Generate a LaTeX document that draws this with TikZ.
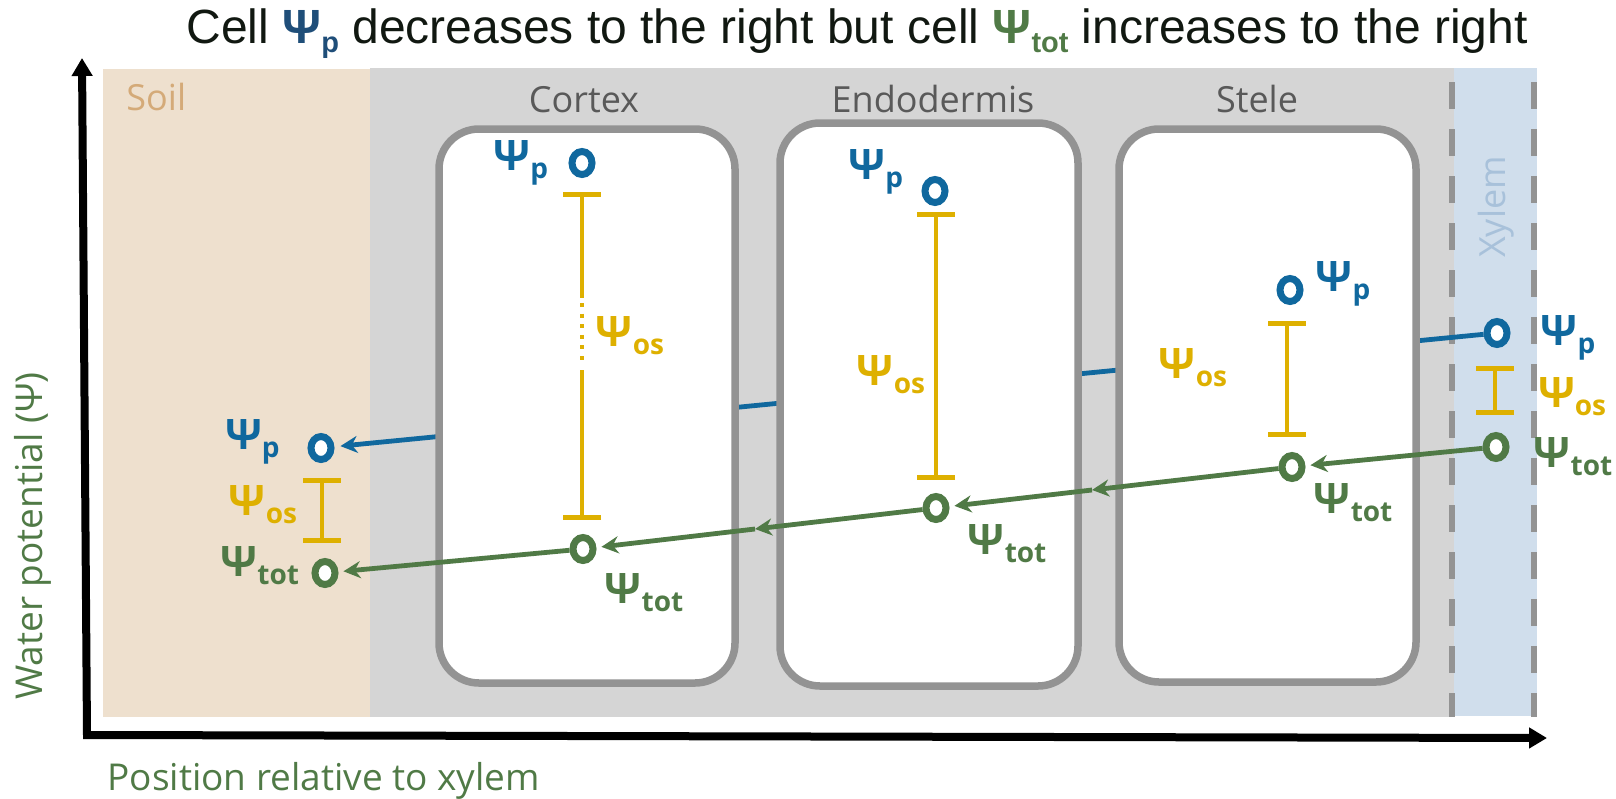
\documentclass[tikz,border=0pt]{standalone}
\usepackage{fontspec}
\setmainfont{Open Sans}
\newfontfamily\titlefont{Liberation Sans}
\usetikzlibrary{arrows.meta, positioning, shapes.geometric}

\definecolor{psiblue}{RGB}{16,104,158}
\definecolor{titleblue}{RGB}{31,78,121}
\definecolor{titleblack}{RGB}{17,24,17}
\definecolor{osyellow}{RGB}{222,176,0}
\definecolor{totgreen}{RGB}{80,122,70}
\definecolor{soilfill}{RGB}{238,224,206}
\definecolor{soiltext}{RGB}{212,170,120}
\definecolor{rootfill}{RGB}{213,213,213}
\definecolor{wallgray}{RGB}{147,147,147}
\definecolor{xylemfill}{RGB}{208,222,236}
\definecolor{xylemtext}{RGB}{168,193,218}
\definecolor{labelgray}{RGB}{89,89,89}

\newcommand{\psilab}[1]{{\fontsize{21}{21}\selectfont\bfseries Ψ}\raisebox{-4pt}{\fontsize{14}{14}\selectfont\bfseries #1}}

\begin{document}
\begin{tikzpicture}[
    x=0.5pt, y=-0.5pt,
    cell/.style={draw=wallgray, line width=3.75pt, fill=white, rounded corners=20pt},
    zonelabel/.style={font=\fontsize{18}{18}\selectfont, text=labelgray, inner sep=0pt},
    axislabel/.style={font=\fontsize{18.5}{18.5}\selectfont, text=totgreen, inner sep=0pt},
    pdot/.style={ellipse, draw=psiblue, fill=white, line width=3.5pt, minimum width=10pt, minimum height=11.5pt, inner sep=0pt},
    totdot/.style={pdot, draw=totgreen},
    plab/.style={text=psiblue, inner sep=0pt},
    oslab/.style={text=osyellow, inner sep=0pt},
    totlab/.style={text=totgreen, inner sep=0pt},
    osline/.style={draw=osyellow, line width=2pt},
    osbar/.style={osline, {Bar[width=19pt, line width=2.5pt]}-{Bar[width=19pt, line width=2.5pt]}},
    totarrow/.style={draw=totgreen, line width=2.4pt, -{Stealth[length=8.5pt,width=8.5pt]}, shorten >=2.5pt},
    parrow/.style={draw=psiblue, line width=2.4pt, -{Stealth[length=8.5pt,width=8.5pt]}, shorten >=3pt},
    axisline/.style={line width=4pt, {Triangle[length=9pt,width=10pt]}-{Triangle[length=9pt,width=10pt]}},
    dashwall/.style={draw=wallgray, line width=3pt, dash pattern=on 13.5pt off 10pt}
]
\useasboundingbox (0,0) rectangle (1616,798);

% zones
\fill[soilfill] (103,69) rectangle (370,717);
\fill[rootfill] (370,68) rectangle (1454,717);
\fill[xylemfill] (1454,68) rectangle (1537,716);
\draw[dashwall] (1452,82) -- (1452,717);
\draw[dashwall] (1534,82) -- (1534,717);
\node[zonelabel, text=soiltext, anchor=base west] (soil) at (126,110) {Soil};
\node[zonelabel, anchor=base] (cortex) at (584,112) {Cortex};
\node[zonelabel, anchor=base] (endo) at (933,112) {Endodermis};
\node[zonelabel, anchor=base] (stele) at (1257,112) {Stele};
\node[zonelabel, text=xylemtext, rotate=90] (xylem) at (1496,207) {Xylem};

% title
\node[anchor=base, font=\titlefont\fontsize{24}{24}\selectfont, text=titleblack, inner sep=0pt] (title) at (857,43)
    {Cell {\bfseries\color{titleblue}Ψ\raisebox{-4.5pt}{\fontsize{14.5}{14.5}\selectfont p}} decreases to the right but cell {\bfseries\color{totgreen}Ψ\raisebox{-4.5pt}{\fontsize{14.5}{14.5}\selectfont tot}} increases to the right};

% axes
\coordinate (origin) at (87,735);
\coordinate (ytip) at (82,58);
\coordinate (xtip) at (1547,738);
\draw[axisline] (ytip) -- (origin) -- (xtip);
\node[axislabel, rotate=90] (ylab) at (33,536) {Water potential (Ψ)};
\node[axislabel, anchor=base west] (xlab) at (107,790) {Position relative to xylem};

% pressure potential, xylem to soil (runs behind the cells)
\node[pdot] (soilp) at (321,448) {};
\node[pdot] (xp) at (1497,333) {};
\draw[parrow] (xp) -- (soilp);

% cells
\draw[cell] (439,129) rectangle (735,683);
\draw[cell] (780,123) rectangle (1078,686);
\draw[cell] (1119,129) rectangle (1416,682);

\node[pdot] (cortp) at (582,163) {};
\node[pdot] (endop) at (935,191) {};
\node[pdot] (stelep) at (1290,290) {};

% osmotic bars
\coordinate (sos1) at (322,478);
\coordinate (sos2) at (322,543);
\coordinate (cos1) at (582,192);
\coordinate (cdot1) at (582,298);
\coordinate (cdot2) at (582,370);
\coordinate (cos2) at (582,520);
\coordinate (eos1) at (936,212);
\coordinate (eos2) at (936,480);
\coordinate (stos1) at (1287,321);
\coordinate (stos2) at (1287,437);
\coordinate (xos1) at (1495,366);
\coordinate (xos2) at (1495,415);
\draw[osbar] (sos1) -- (sos2);
\draw[osline, {Bar[width=19pt, line width=2.5pt]}-] (cos1) -- (cdot1);
\draw[osline, dash pattern=on 2pt off 3.3pt, shorten <=2.5pt, shorten >=2.5pt] (cdot1) -- (cdot2);
\draw[osline, -{Bar[width=19pt, line width=2.5pt]}] (cdot2) -- (cos2);
\draw[osbar] (eos1) -- (eos2);
\draw[osbar] (stos1) -- (stos2);
\draw[osbar] (xos1) -- (xos2);

% total potential
\node[totdot] (soiltot) at (325,573) {};
\node[totdot] (corttot) at (583,549) {};
\node[totdot] (endotot) at (936,508) {};
\node[totdot] (steletot) at (1292,467) {};
\node[totdot] (xtot) at (1496,447) {};
\coordinate (g2) at (1092,490);
\coordinate (g1) at (755,529);
\draw[totarrow] (xtot) -- (steletot);
\draw[totarrow, shorten >=0pt] (steletot) -- (g2);
\draw[totarrow] (g2) -- (endotot);
\draw[totarrow, shorten >=0pt] (endotot) -- (g1);
\draw[totarrow] (g1) -- (corttot);
\draw[totarrow] (corttot) -- (soiltot);

% labels
\node[plab, left=13.75pt of soilp, yshift=3pt] (lsoilp) {\psilab{p}};
\node[plab, left=10pt of cortp] (lcortp) {\psilab{p}};
\node[plab, left=9pt of endop, yshift=9.5pt] (lendop) {\psilab{p}};
\node[plab, right=6pt of stelep, yshift=3pt] (lstelep) {\psilab{p}};
\node[plab, right=15pt of xp, yshift=-2.5pt] (lxp) {\psilab{p}};

\node[oslab] (lsoilos) at (263,505) {\psilab{os}};
\node[oslab] (lcortos) at (630,336) {\psilab{os}};
\node[oslab] (lendoos) at (891,375) {\psilab{os}};
\node[oslab] (lsteleos) at (1193,368) {\psilab{os}};
\node[oslab] (lxos) at (1572,397) {\psilab{os}};

\node[totlab, left=6pt of soiltot, yshift=3.5pt] (lsoiltot) {\psilab{tot}};
\node[totlab, below right=7pt and 6pt of corttot] (lcorttot) {\psilab{tot}};
\node[totlab, below right=3pt and 11pt of endotot] (lendotot) {\psilab{tot}};
\node[totlab, below right=3pt and 6pt of steletot] (lsteletot) {\psilab{tot}};
\node[totlab, right=12pt of xtot, yshift=-5pt] (lxtot) {\psilab{tot}};
\end{tikzpicture}
\end{document}
